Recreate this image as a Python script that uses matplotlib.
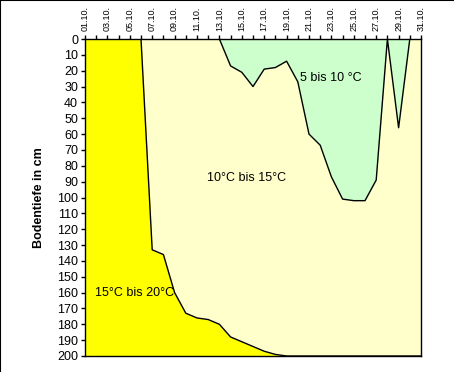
import numpy as np
import matplotlib.pyplot as plt

plt.rcParams['font.family'] = ['Liberation Sans', 'DejaVu Sans']

# Tage im Oktober
tage = ['%02d.10.' % d for d in range(1, 32)]

# Grenze 5-10 °C / 10-15 °C (Tiefe in cm)
grenze_kalt = [0, 0, 0, 0, 0, 0, 0, 0, 0, 0, 0, 0, 0, 17, 21, 30, 19, 18, 14, 27,
               60, 67, 87, 101, 102, 102, 89, 0, 56, 0, 0]
# Grenze 10-15 °C / 15-20 °C (Tiefe in cm)
grenze_warm = [0, 0, 0, 0, 0, 0, 133, 136, 160, 173, 176, 177, 180, 188, 191, 194,
               197, 199, 200, 200, 200, 200, 200, 200, 200, 200, 200, 200, 200, 200, 200]

x = np.arange(len(tage))

fig = plt.figure(figsize=(4.54, 3.72), dpi=100)
ax = fig.add_axes([85 / 454, 1 - 356 / 372, 336 / 454, 317 / 372])

ax.set_facecolor('#FFFFCC')
ax.fill_between(x, grenze_warm, 200, color='#FFFF00', lw=0)
ax.fill_between(x, 0, grenze_kalt, color='#CCFFCC', lw=0)
ax.plot(x, grenze_warm, color='black', lw=1)
ax.plot(x, grenze_kalt, color='black', lw=1)

ax.set_xlim(0, 30)
ax.set_ylim(200, 0)
ax.set_yticks(range(0, 201, 10))
ax.set_xticks(x)
ax.set_xticklabels([t if i % 2 == 0 else '' for i, t in enumerate(tage)], rotation=90)
ax.xaxis.tick_top()
ax.tick_params(axis='both', direction='out', length=3, width=1, pad=2)
ax.tick_params(axis='y', labelsize=9)
ax.tick_params(axis='x', labelsize=6.5, pad=3)
ax.set_ylabel('Bodentiefe in cm', fontsize=9, fontweight='bold', labelpad=9)

for s in ax.spines.values():
    s.set_color('black')
    s.set_linewidth(1)

ax.text(19.2, 24.5, '5 bis 10 °C', fontsize=9, va='center', ha='left')
ax.text(10.9, 88, '10°C bis 15°C', fontsize=9, va='center', ha='left')
ax.text(0.9, 160, '15°C bis 20°C', fontsize=9, va='center', ha='left')

# Rahmen links und oben
fig.add_artist(plt.Line2D([0.001, 0.001], [0, 1], color='black', lw=1.5, transform=fig.transFigure))
fig.add_artist(plt.Line2D([0, 1], [0.999, 0.999], color='black', lw=1.5, transform=fig.transFigure))

fig.savefig('out.png', dpi=100)
